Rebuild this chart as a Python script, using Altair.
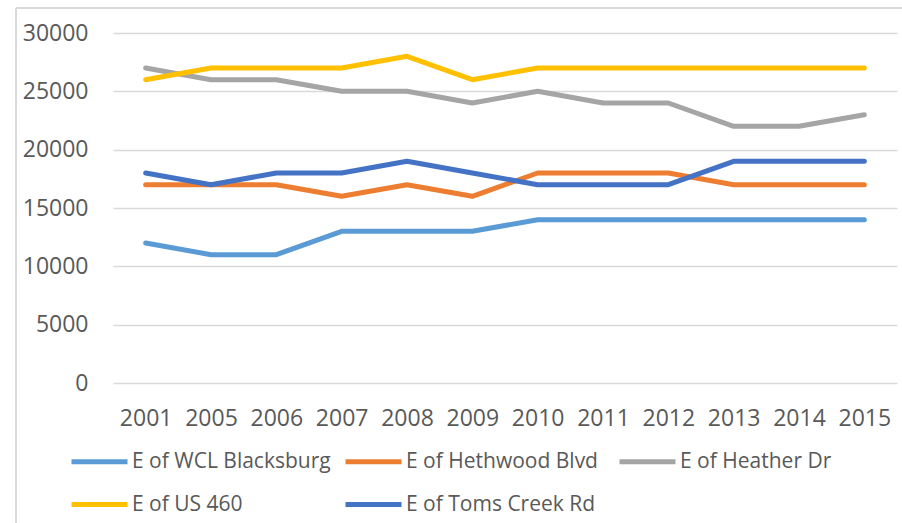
import altair as alt
import pandas as pd

years = ["2001", "2005", "2006", "2007", "2008", "2009", "2010", "2011", "2012", "2013", "2014", "2015"]
series_names = ["E of WCL Blacksburg", "E of Hethwood Blvd", "E of Heather Dr", "E of US 460", "E of Toms Creek Rd"]
wcl = [12000, 11000, 11000, 13000, 13000, 13000, 14000, 14000, 14000, 14000, 14000, 14000]
hethwood = [17000, 17000, 17000, 16000, 17000, 16000, 18000, 18000, 18000, 17000, 17000, 17000]
heather = [27000, 26000, 26000, 25000, 25000, 24000, 25000, 24000, 24000, 22000, 22000, 23000]
us460 = [26000, 27000, 27000, 27000, 28000, 26000, 27000, 27000, 27000, 27000, 27000, 27000]
toms = [18000, 17000, 18000, 18000, 19000, 18000, 17000, 17000, 17000, 19000, 19000, 19000]
colors = ["#5B9BD5", "#ED7D31", "#A5A5A5", "#FFC000", "#4472C4"]
y_ticks = [0, 5000, 10000, 15000, 20000, 25000, 30000]

rows = []
for name, vals in zip(series_names, [wcl, hethwood, heather, us460, toms]):
    for yr, v in zip(years, vals):
        rows.append({"year": yr, "value": v, "series": name})
df = pd.DataFrame(rows)

FONT = "Open Sans"
TXT = "#595959"

lines = alt.Chart(df).mark_line(strokeWidth=5, strokeCap="round", strokeJoin="round").encode(
    x=alt.X("year:N", sort=years, scale=alt.Scale(type="point", padding=0.5),
            axis=alt.Axis(title=None, labelAngle=0, ticks=False, domain=False, grid=False,
                          labelPadding=24, labelFontSize=23, labelColor=TXT, labelFont=FONT)),
    y=alt.Y("value:Q", scale=alt.Scale(domain=[0, 30000]),
            axis=alt.Axis(title=None, values=y_ticks, format="d", ticks=False, domain=False,
                          grid=True, gridColor="#D9D9D9", gridWidth=1.5,
                          labelPadding=25, labelFontSize=23, labelColor=TXT, labelFont=FONT)),
    color=alt.Color("series:N", sort=series_names,
                    scale=alt.Scale(domain=series_names, range=colors),
                    legend=alt.Legend(title=None, orient="none", legendX=-44, legendY=398,
                                      direction="horizontal", columns=3, gridAlign="all",
                                      symbolType="stroke", symbolStrokeWidth=5, symbolSize=3136,
                                      labelFontSize=21, labelFont=FONT, labelColor=TXT,
                                      labelOffset=2, columnPadding=4, rowPadding=2,
                                      labelLimit=400)),
)

border_left = alt.Chart(df).mark_rule(color="#D9D9D9", strokeWidth=2).encode(
    x=alt.value(-97), y=alt.value(-25), y2=alt.value(600))
border_top = alt.Chart(df).mark_rule(color="#D9D9D9", strokeWidth=2).encode(
    x=alt.value(-97), x2=alt.value(900), y=alt.value(-25))

chart = alt.layer(border_left, border_top, lines).properties(
    width=784, height=350,
    padding={"left": 113, "top": 33, "right": 5, "bottom": 140},
    autosize=alt.AutoSizeParams(type="none"),
    background="white",
).configure_view(stroke=None)

chart.save("out.html", embed_options={"renderer": "svg", "actions": False})
